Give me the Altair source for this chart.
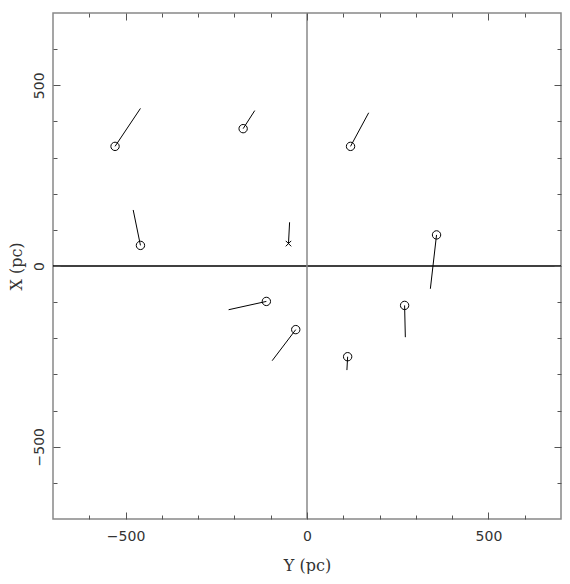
import altair as alt
import pandas as pd

# data (pc): star positions and the ends of their motion vectors
kind = ["circle"] * 9 + ["cross"]
y_pc = [-529, -176, -459, 120, 357, -112, -31, 269, 112, -51]
x_pc = [331, 380, 57, 331, 86, -98, -176, -109, -251, 62]
y_end = [-459, -144, -479, 170, 340, -216, -96, 271, 110, -48]
x_end = [436, 430, 155, 424, -63, -121, -262, -197, -288, 121]

major_ticks = [-500, 0, 500]
minor_ticks = [-600, -400, -300, -200, -100, 100, 200, 300, 400, 600]
domain = [-700, 700]

df = pd.DataFrame({"Y": y_pc, "X": x_pc, "Y2": y_end, "X2": x_end, "kind": kind})
zero = pd.DataFrame({"v": [0]})

xs = alt.Scale(domain=domain, nice=False, zero=False)
ys = alt.Scale(domain=domain, nice=False, zero=False)

W, H = 508, 506
TICK = "#555555"
TXT = "#333333"


def tick_axis(orient, values, size):
    return alt.Axis(orient=orient, values=values, labels=False, domain=False,
                    grid=False, ticks=True, tickSize=size, offset=-size,
                    tickColor=TICK, tickWidth=1, title=None, zindex=2)


def tick_layer(xo, yo, values, size):
    return alt.Chart(df).mark_point(opacity=0).encode(
        x=alt.X("Y:Q", scale=xs, axis=tick_axis(xo, values, size)),
        y=alt.Y("X:Q", scale=ys, axis=tick_axis(yo, values, size)),
    )


label_axis_x = alt.Axis(orient="bottom", values=major_ticks, ticks=False, domain=False,
                        grid=False, labelFont="DejaVu Sans", labelFontSize=14,
                        labelColor=TXT, labelPadding=10, title="Y (pc)",
                        titleFont="DejaVu Serif", titleFontSize=16,
                        titleFontWeight="normal", titleColor=TXT,
                        titleX=W / 2, titleY=46, titleBaseline="middle",
                        titleAlign="center")
label_axis_y = alt.Axis(orient="left", values=major_ticks, ticks=False, domain=False,
                        grid=False, labelFont="DejaVu Sans", labelFontSize=14,
                        labelColor=TXT, labelPadding=7, labelAngle=-90,
                        labelAlign="center", labelBaseline="bottom",
                        title="X (pc)", titleFont="DejaVu Serif", titleFontSize=16,
                        titleFontWeight="normal", titleColor=TXT,
                        titleX=-37, titleY=H / 2, titleBaseline="middle",
                        titleAlign="center", titleAngle=-90)

h_zero = alt.Chart(zero).mark_rule(color="black", strokeWidth=1.5).encode(
    y=alt.Y("v:Q", scale=ys, axis=None))
v_zero = alt.Chart(zero).mark_rule(color="#888888", strokeWidth=1.5).encode(
    x=alt.X("v:Q", scale=xs, axis=None))

vectors = alt.Chart(df).mark_rule(color="black", strokeWidth=1).encode(
    x=alt.X("Y:Q", scale=xs, axis=label_axis_x),
    y=alt.Y("X:Q", scale=ys, axis=label_axis_y),
    x2="Y2:Q",
    y2="X2:Q",
)

circles = alt.Chart(df).transform_filter(alt.datum.kind == "circle").mark_point(
    shape="circle", filled=False, size=70, stroke="black", strokeWidth=1, opacity=1
).encode(
    x=alt.X("Y:Q", scale=xs, axis=None),
    y=alt.Y("X:Q", scale=ys, axis=None),
)

crosses = alt.Chart(df).transform_filter(alt.datum.kind == "cross").mark_point(
    shape="M-1,-1L1,1M-1,1L1,-1", filled=False, size=30, stroke="black",
    strokeWidth=1, opacity=1
).encode(
    x=alt.X("Y:Q", scale=xs, axis=None),
    y=alt.Y("X:Q", scale=ys, axis=None),
)

chart = alt.layer(
    h_zero, v_zero, vectors, circles, crosses,
    tick_layer("bottom", "left", major_ticks, 7),
    tick_layer("bottom", "left", minor_ticks, 4),
    tick_layer("top", "right", major_ticks, 7),
    tick_layer("top", "right", minor_ticks, 4),
).resolve_axis(x="independent", y="independent").properties(
    width=W, height=H,
    autosize=alt.AutoSizeParams(type="none"),
    padding={"left": 45, "top": 5, "right": 1, "bottom": 55},
    background="white",
).configure_view(stroke="#888888", strokeWidth=1.5)

chart.save("out.html", embed_options={"renderer": "svg", "actions": False})
